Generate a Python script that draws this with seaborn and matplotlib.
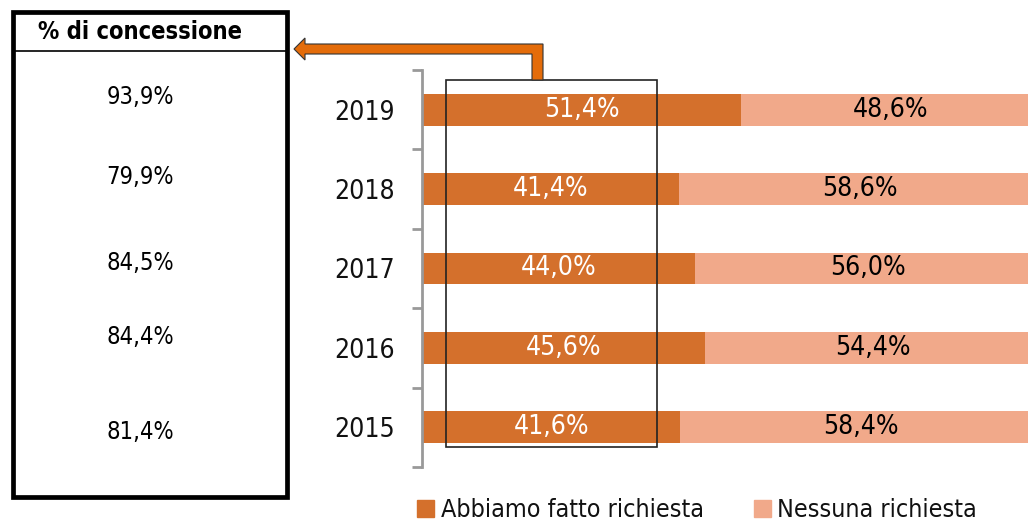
import matplotlib
matplotlib.use("Agg")
import matplotlib.pyplot as plt
import seaborn as sns
import pandas as pd
from matplotlib.patches import Rectangle, Polygon
from matplotlib.lines import Line2D

years = ["2019", "2018", "2017", "2016", "2015"]
richiesta = [51.4, 41.4, 44.0, 45.6, 41.6]
nessuna = [48.6, 58.6, 56.0, 54.4, 58.4]
concessione = ["93,9%", "79,9%", "84,5%", "84,4%", "81,4%"]
legend_labels = ["Abbiamo fatto richiesta", "Nessuna richiesta"]
header = "% di concessione"

dark = "#D4702C"
light = "#F1A98A"
arrow_c = "#E46C0A"

sns.set_theme(style="white")
plt.rcParams["font.family"] = ["DejaVu Sans"]
plt.rcParams["font.stretch"] = "condensed"
plt.rcParams["text.color"] = "black"

W, H = 1028, 521
fig = plt.figure(figsize=(W / 100, H / 100), dpi=100)

def fx(px):
    return px / W

def fy(py):
    return 1 - py / H

# the plot area extends past the right edge of the figure (bars are cropped)
ax = fig.add_axes([fx(423), fy(467), fx(1041) - fx(423), fy(70) - fy(467)])
ax.set_clip_on(False)

df = pd.DataFrame({"year": years, "richiesta": richiesta, "nessuna": nessuna})
df["total"] = df["richiesta"] + df["nessuna"]

sns.barplot(data=df, y="year", x="total", orient="h", color=light, width=0.4,
            saturation=1, ax=ax, order=years, linewidth=0)
sns.barplot(data=df, y="year", x="richiesta", orient="h", color=dark, width=0.4,
            saturation=1, ax=ax, order=years, linewidth=0)

for i, (a, b) in enumerate(zip(richiesta, nessuna)):
    ax.text(a / 2, i, f"{a:.1f}%".replace(".", ","), ha="center", va="center",
            color="white", fontsize=19)
    ax.text(a + b / 2, i, f"{b:.1f}%".replace(".", ","), ha="center", va="center",
            color="black", fontsize=19)

ax.set_xlim(0, 100)
ax.set_ylim(4.5, -0.5)
ax.set_xlabel("")
ax.set_ylabel("")
ax.set_xticks([])
for s in ["top", "right", "bottom"]:
    ax.spines[s].set_visible(False)
ax.spines["left"].set_color("#999999")
ax.spines["left"].set_linewidth(2)
ax.spines["left"].set_position(("outward", 1))
ax.tick_params(axis="y", which="major", length=0, pad=19, labelsize=19, labelcolor="#111111")
ax.set_yticks([i - 0.5 for i in range(6)], minor=True)
ax.tick_params(axis="y", which="minor", length=7, width=2, color="#999999", left=True)

# legend
handles = [Rectangle((0, 0), 1, 1, color=dark), Rectangle((0, 0), 1, 1, color=light)]
fig.legend(handles, legend_labels, loc="center", bbox_to_anchor=(fx(697), fy(510)),
           ncol=2, frameon=False, fontsize=18, handlelength=0.7, handleheight=0.7,
           handletextpad=0.25, columnspacing=2.0, labelcolor="#111111")

# thin highlight rectangle over bars
fig.patches.append(Rectangle((fx(446), fy(447)), fx(657) - fx(446), fy(80) - fy(447),
                             transform=fig.transFigure, fill=False, edgecolor="#222222",
                             linewidth=1.2, zorder=5))

# arrow
pts = [(294, 49), (305, 38), (305, 44), (543, 44), (543, 80), (532, 80),
       (532, 54), (305, 54), (305, 60)]
fig.patches.append(Polygon([(fx(x), fy(y)) for x, y in pts], closed=True,
                           transform=fig.transFigure, facecolor=arrow_c,
                           edgecolor="#333333", linewidth=0.8, zorder=6))

# left box
fig.patches.append(Rectangle((fx(13), fy(497)), fx(287) - fx(13), fy(12) - fy(497),
                             transform=fig.transFigure, fill=False, edgecolor="black",
                             linewidth=3.4, zorder=5))
fig.lines.append(Line2D([fx(13), fx(287)], [fy(51), fy(51)], transform=fig.transFigure,
                        color="black", linewidth=1.2))
fig.text(fx(140), fy(32), header, ha="center", va="center", fontsize=17,
         fontweight="bold", color="black")
val_y = [97, 177, 263, 337, 432]
for v, yy in zip(concessione, val_y):
    fig.text(fx(140), fy(yy), v, ha="center", va="center", fontsize=17, color="black")

fig.savefig("out.png", dpi=100)
